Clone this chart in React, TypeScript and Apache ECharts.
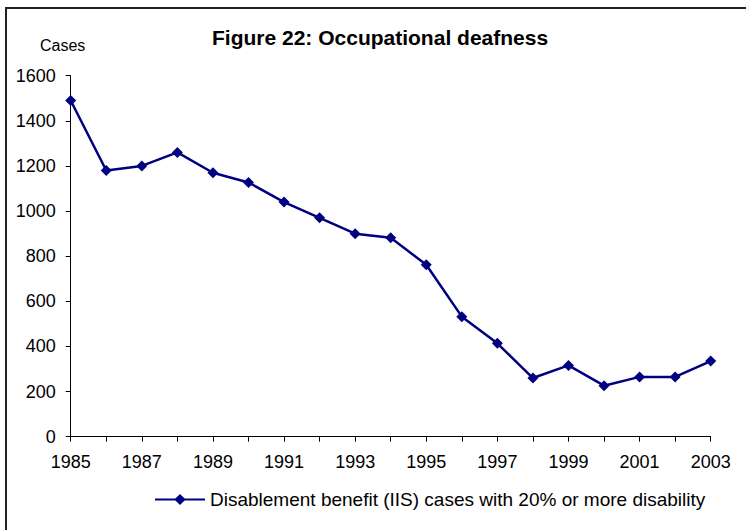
import React, { useEffect, useRef } from "react";
import * as echarts from "echarts";

const years = ["1985","1986","1987","1988","1989","1990","1991","1992","1993","1994","1995","1996","1997","1998","1999","2000","2001","2002","2003"];
const cases = [1490, 1180, 1200, 1260, 1170, 1127, 1040, 970, 900, 882, 762, 532, 414, 260, 316, 226, 265, 265, 335];
const seriesName = "Disablement benefit (IIS) cases with 20% or more disability";
const titleText = "Figure 22: Occupational deafness";
const yAxisTitle = "Cases";

const FONT = "'Liberation Sans', Arial, sans-serif";

export default function App() {
  const ref = useRef<HTMLDivElement>(null);
  useEffect(() => {
    document.body.style.margin = "0";
    const chart = echarts.init(ref.current!, null, { renderer: "svg" });
    chart.setOption({
      animation: false,
      backgroundColor: "#ffffff",
      textStyle: { fontFamily: FONT },
      title: {
        text: titleText,
        left: 207,
        top: 22,
        textStyle: { fontFamily: FONT, fontSize: 21, fontWeight: "bold", color: "#000" },
      },
      graphic: [
        {
          type: "rect",
          shape: { x: 6, y: 8, width: 800, height: 600 },
          style: { fill: "none", stroke: "#222", lineWidth: 2 },
          silent: true,
        },
        {
          type: "text",
          left: 40,
          top: 37,
          style: { text: yAxisTitle, fontFamily: FONT, fontSize: 16, fill: "#000" },
        },
      ],
      legend: {
        data: [seriesName],
        left: 154,
        top: 490,
        padding: 0,
        itemWidth: 50,
        itemHeight: 14,
        textStyle: { fontFamily: FONT, fontSize: 19, color: "#000" },
      },
      grid: { left: 70.7, right: 35.3, top: 75.7, bottom: 93.3, containLabel: false },
      xAxis: {
        type: "category",
        data: years,
        boundaryGap: false,
        axisLine: { lineStyle: { color: "#000", width: 1 } },
        axisTick: { show: true, interval: 0, length: 5, lineStyle: { color: "#000" } },
        axisLabel: { interval: 1, color: "#000", fontSize: 18, fontFamily: FONT, margin: 16 },
        splitLine: { show: false },
      },
      yAxis: {
        type: "value",
        min: 0,
        max: 1600,
        interval: 200,
        axisLine: { show: true, lineStyle: { color: "#000", width: 1 } },
        axisTick: { show: true, length: 5, lineStyle: { color: "#000" } },
        axisLabel: {
          color: "#000",
          fontSize: 18,
          fontFamily: FONT,
          margin: 15,
          formatter: (v: number) => String(v),
        },
        splitLine: { show: false },
      },
      series: [
        {
          name: seriesName,
          type: "line",
          data: cases,
          symbol: "diamond",
          symbolSize: 11,
          lineStyle: { color: "#000080", width: 2.5 },
          itemStyle: { color: "#000080" },
        },
      ],
    });
    return () => chart.dispose();
  }, []);
  return <div ref={ref} style={{ width: 746, height: 530 }} />;
}
